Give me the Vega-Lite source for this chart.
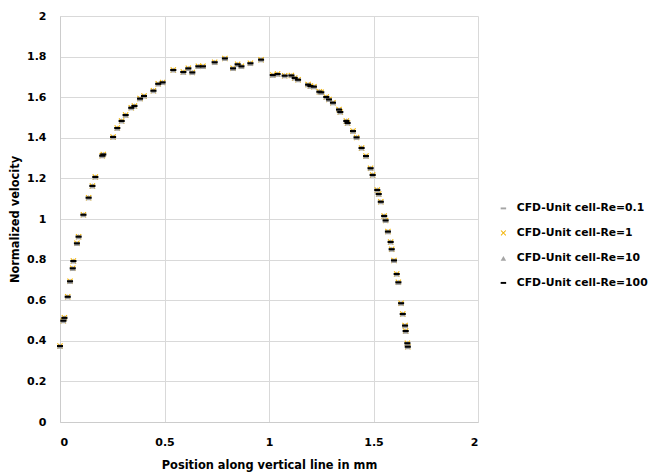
{
  "$schema": "https://vega.github.io/schema/vega-lite/v6.json",
  "autosize": "none",
  "width": 418,
  "height": 406,
  "padding": {"left": 60, "top": 16, "right": 173, "bottom": 52},
  "background": "white",
  "config": {
    "font": "DejaVu Sans",
    "view": {"stroke": null}
  },
  "data": {
    "values": [
      {"x": 0.000, "r01": 0.374, "r1": 0.374, "r10": 0.374, "r100": 0.374},
      {"x": 0.016, "r01": 0.499, "r1": 0.499, "r10": 0.499, "r100": 0.499},
      {"x": 0.021, "r01": 0.513, "r1": 0.513, "r10": 0.513, "r100": 0.513},
      {"x": 0.037, "r01": 0.617, "r1": 0.617, "r10": 0.617, "r100": 0.617},
      {"x": 0.048, "r01": 0.693, "r1": 0.693, "r10": 0.693, "r100": 0.693},
      {"x": 0.061, "r01": 0.757, "r1": 0.757, "r10": 0.757, "r100": 0.757},
      {"x": 0.064, "r01": 0.793, "r1": 0.793, "r10": 0.793, "r100": 0.793},
      {"x": 0.081, "r01": 0.880, "r1": 0.880, "r10": 0.880, "r100": 0.880},
      {"x": 0.089, "r01": 0.913, "r1": 0.913, "r10": 0.913, "r100": 0.913},
      {"x": 0.112, "r01": 1.021, "r1": 1.021, "r10": 1.021, "r100": 1.021},
      {"x": 0.137, "r01": 1.105, "r1": 1.105, "r10": 1.105, "r100": 1.105},
      {"x": 0.155, "r01": 1.163, "r1": 1.163, "r10": 1.163, "r100": 1.163},
      {"x": 0.169, "r01": 1.207, "r1": 1.207, "r10": 1.207, "r100": 1.207},
      {"x": 0.202, "r01": 1.312, "r1": 1.312, "r10": 1.312, "r100": 1.312},
      {"x": 0.207, "r01": 1.318, "r1": 1.318, "r10": 1.318, "r100": 1.318},
      {"x": 0.254, "r01": 1.404, "r1": 1.404, "r10": 1.404, "r100": 1.404},
      {"x": 0.274, "r01": 1.448, "r1": 1.448, "r10": 1.448, "r100": 1.448},
      {"x": 0.295, "r01": 1.483, "r1": 1.483, "r10": 1.483, "r100": 1.483},
      {"x": 0.314, "r01": 1.512, "r1": 1.512, "r10": 1.512, "r100": 1.512},
      {"x": 0.341, "r01": 1.548, "r1": 1.548, "r10": 1.548, "r100": 1.548},
      {"x": 0.356, "r01": 1.557, "r1": 1.557, "r10": 1.557, "r100": 1.557},
      {"x": 0.383, "r01": 1.593, "r1": 1.593, "r10": 1.593, "r100": 1.593},
      {"x": 0.402, "r01": 1.606, "r1": 1.606, "r10": 1.606, "r100": 1.606},
      {"x": 0.447, "r01": 1.632, "r1": 1.632, "r10": 1.632, "r100": 1.632},
      {"x": 0.470, "r01": 1.666, "r1": 1.666, "r10": 1.666, "r100": 1.666},
      {"x": 0.491, "r01": 1.673, "r1": 1.673, "r10": 1.673, "r100": 1.673},
      {"x": 0.542, "r01": 1.734, "r1": 1.734, "r10": 1.734, "r100": 1.734},
      {"x": 0.590, "r01": 1.724, "r1": 1.724, "r10": 1.724, "r100": 1.724},
      {"x": 0.614, "r01": 1.742, "r1": 1.742, "r10": 1.742, "r100": 1.742},
      {"x": 0.633, "r01": 1.722, "r1": 1.722, "r10": 1.722, "r100": 1.722},
      {"x": 0.662, "r01": 1.752, "r1": 1.752, "r10": 1.752, "r100": 1.752},
      {"x": 0.684, "r01": 1.752, "r1": 1.752, "r10": 1.752, "r100": 1.752},
      {"x": 0.740, "r01": 1.772, "r1": 1.772, "r10": 1.772, "r100": 1.772},
      {"x": 0.789, "r01": 1.791, "r1": 1.791, "r10": 1.791, "r100": 1.791},
      {"x": 0.828, "r01": 1.742, "r1": 1.742, "r10": 1.742, "r100": 1.742},
      {"x": 0.850, "r01": 1.762, "r1": 1.762, "r10": 1.762, "r100": 1.762},
      {"x": 0.868, "r01": 1.752, "r1": 1.752, "r10": 1.752, "r100": 1.752},
      {"x": 0.911, "r01": 1.767, "r1": 1.767, "r10": 1.767, "r100": 1.767},
      {"x": 0.962, "r01": 1.785, "r1": 1.785, "r10": 1.785, "r100": 1.785},
      {"x": 1.018, "r01": 1.709, "r1": 1.709, "r10": 1.709, "r100": 1.709},
      {"x": 1.041, "r01": 1.714, "r1": 1.714, "r10": 1.714, "r100": 1.714},
      {"x": 1.075, "r01": 1.706, "r1": 1.706, "r10": 1.706, "r100": 1.706},
      {"x": 1.107, "r01": 1.707, "r1": 1.707, "r10": 1.707, "r100": 1.707},
      {"x": 1.123, "r01": 1.695, "r1": 1.695, "r10": 1.695, "r100": 1.695},
      {"x": 1.139, "r01": 1.686, "r1": 1.686, "r10": 1.686, "r100": 1.686},
      {"x": 1.187, "r01": 1.662, "r1": 1.662, "r10": 1.662, "r100": 1.662},
      {"x": 1.198, "r01": 1.655, "r1": 1.655, "r10": 1.655, "r100": 1.655},
      {"x": 1.215, "r01": 1.652, "r1": 1.652, "r10": 1.652, "r100": 1.652},
      {"x": 1.241, "r01": 1.627, "r1": 1.627, "r10": 1.627, "r100": 1.627},
      {"x": 1.250, "r01": 1.624, "r1": 1.624, "r10": 1.624, "r100": 1.624},
      {"x": 1.274, "r01": 1.601, "r1": 1.601, "r10": 1.601, "r100": 1.601},
      {"x": 1.287, "r01": 1.589, "r1": 1.589, "r10": 1.589, "r100": 1.589},
      {"x": 1.306, "r01": 1.573, "r1": 1.573, "r10": 1.573, "r100": 1.573},
      {"x": 1.335, "r01": 1.539, "r1": 1.539, "r10": 1.539, "r100": 1.539},
      {"x": 1.341, "r01": 1.527, "r1": 1.527, "r10": 1.527, "r100": 1.527},
      {"x": 1.370, "r01": 1.483, "r1": 1.483, "r10": 1.483, "r100": 1.483},
      {"x": 1.376, "r01": 1.473, "r1": 1.473, "r10": 1.473, "r100": 1.473},
      {"x": 1.402, "r01": 1.433, "r1": 1.433, "r10": 1.433, "r100": 1.433},
      {"x": 1.419, "r01": 1.402, "r1": 1.402, "r10": 1.402, "r100": 1.402},
      {"x": 1.443, "r01": 1.350, "r1": 1.350, "r10": 1.350, "r100": 1.350},
      {"x": 1.464, "r01": 1.310, "r1": 1.310, "r10": 1.310, "r100": 1.310},
      {"x": 1.486, "r01": 1.250, "r1": 1.250, "r10": 1.250, "r100": 1.250},
      {"x": 1.496, "r01": 1.217, "r1": 1.217, "r10": 1.217, "r100": 1.217},
      {"x": 1.518, "r01": 1.143, "r1": 1.143, "r10": 1.143, "r100": 1.143},
      {"x": 1.525, "r01": 1.123, "r1": 1.123, "r10": 1.123, "r100": 1.123},
      {"x": 1.535, "r01": 1.085, "r1": 1.085, "r10": 1.085, "r100": 1.085},
      {"x": 1.551, "r01": 1.015, "r1": 1.015, "r10": 1.015, "r100": 1.015},
      {"x": 1.558, "r01": 0.993, "r1": 0.993, "r10": 0.993, "r100": 0.993},
      {"x": 1.569, "r01": 0.938, "r1": 0.938, "r10": 0.938, "r100": 0.938},
      {"x": 1.582, "r01": 0.887, "r1": 0.887, "r10": 0.887, "r100": 0.887},
      {"x": 1.587, "r01": 0.851, "r1": 0.851, "r10": 0.851, "r100": 0.851},
      {"x": 1.598, "r01": 0.796, "r1": 0.796, "r10": 0.796, "r100": 0.796},
      {"x": 1.611, "r01": 0.729, "r1": 0.729, "r10": 0.729, "r100": 0.729},
      {"x": 1.619, "r01": 0.688, "r1": 0.688, "r10": 0.688, "r100": 0.688},
      {"x": 1.632, "r01": 0.585, "r1": 0.585, "r10": 0.585, "r100": 0.585},
      {"x": 1.640, "r01": 0.532, "r1": 0.532, "r10": 0.532, "r100": 0.532},
      {"x": 1.651, "r01": 0.475, "r1": 0.475, "r10": 0.475, "r100": 0.475},
      {"x": 1.654, "r01": 0.448, "r1": 0.448, "r10": 0.448, "r100": 0.448},
      {"x": 1.662, "r01": 0.388, "r1": 0.388, "r10": 0.388, "r100": 0.388},
      {"x": 1.664, "r01": 0.371, "r1": 0.371, "r10": 0.371, "r100": 0.371}
    ]
  },
  "transform": [
    {"fold": ["r01", "r1", "r10", "r100"], "as": ["series", "y"]}
  ],
  "mark": {"type": "point", "filled": true, "size": 36, "opacity": 1},
  "encoding": {
    "x": {
      "field": "x",
      "type": "quantitative",
      "scale": {"domain": [0, 2], "nice": false, "zero": false},
      "axis": {
        "values": [0, 0.5, 1, 1.5, 2],
        "format": "~f",
        "title": "Position along vertical line in mm",
        "titleFont": "DejaVu Sans",
        "titleFontSize": 11.4,
        "titleFontWeight": "bold",
        "titleColor": "#000000",
        "titlePadding": 12,
        "labelFont": "DejaVu Sans",
        "labelFontSize": 11,
        "labelFontWeight": "bold",
        "labelColor": "#000000",
        "labelPadding": 14,
        "ticks": false,
        "domainColor": "#cccccc",
        "gridColor": "#d9d9d9",
        "grid": true
      }
    },
    "y": {
      "field": "y",
      "type": "quantitative",
      "scale": {"domain": [0, 2], "nice": false},
      "axis": {
        "values": [0, 0.2, 0.4, 0.6, 0.8, 1, 1.2, 1.4, 1.6, 1.8, 2],
        "format": "~f",
        "title": "Normalized velocity",
        "titleFont": "DejaVu Sans",
        "titleFontSize": 11.4,
        "titleFontWeight": "bold",
        "titleColor": "#000000",
        "titlePadding": 6,
        "labelFont": "DejaVu Sans",
        "labelFontSize": 11,
        "labelFontWeight": "bold",
        "labelColor": "#000000",
        "labelPadding": 14,
        "ticks": false,
        "domainColor": "#cccccc",
        "gridColor": "#d9d9d9",
        "grid": true
      }
    },
    "color": {
      "field": "series",
      "type": "nominal",
      "scale": {
        "domain": ["r01", "r1", "r10", "r100"],
        "range": ["#a5a5a5", "#f2b200", "#a5a5a5", "#000000"]
      },
      "legend": {
        "orient": "none",
        "legendX": 438,
        "legendY": 187,
        "title": null,
        "rowPadding": 12.5,
        "symbolSize": 30,
        "symbolOpacity": 1,
        "labelOffset": 8,
        "labelFont": "DejaVu Sans",
        "labelFontSize": 10.8,
        "labelFontWeight": "bold",
        "labelColor": "#000000",
        "labelLimit": 200,
        "labelExpr": "{'r01': 'CFD-Unit cell-Re=0.1', 'r1': 'CFD-Unit cell-Re=1', 'r10': 'CFD-Unit cell-Re=10', 'r100': 'CFD-Unit cell-Re=100'}[datum.value]"
      }
    },
    "shape": {
      "field": "series",
      "type": "nominal",
      "scale": {
        "domain": ["r01", "r1", "r10", "r100"],
        "range": [
          "M-1,-0.35L1,-0.35L1,0.35L-1,0.35Z",
          "M-1,-0.75L-0.75,-1L0,-0.25L0.75,-1L1,-0.75L0.25,0L1,0.75L0.75,1L0,0.25L-0.75,1L-1,0.75L-0.25,0Z",
          "triangle-up",
          "M-1,-0.35L1,-0.35L1,0.35L-1,0.35Z"
        ]
      }
    },
    "order": {"field": "series", "sort": "ascending"}
  }
}
